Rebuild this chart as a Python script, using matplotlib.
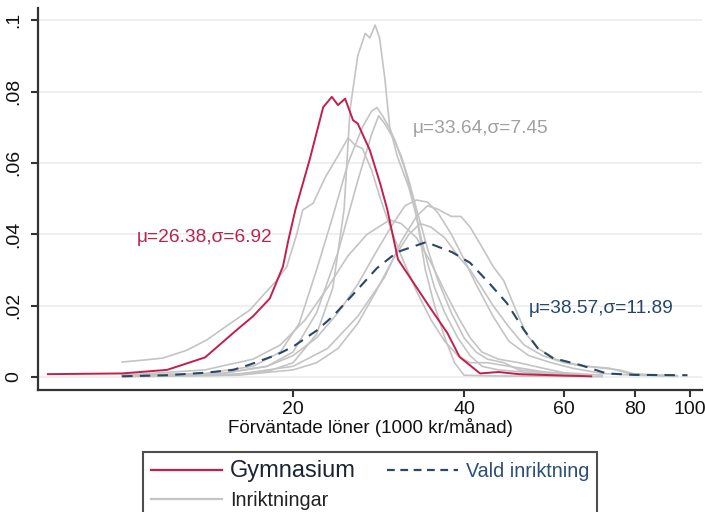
import numpy as np
import matplotlib
matplotlib.use("Agg")
import matplotlib.pyplot as plt
from matplotlib.lines import Line2D

plt.rcParams['font.family'] = ['Liberation Sans', 'DejaVu Sans']

# ---- data (salary in 1000 kr/month, density) ----
gym_x = [7.4, 10, 12, 14, 16, 17, 18.2, 19.2, 19.6, 20.2, 21.4, 22.6, 23.4, 24.0, 24.7, 25.5, 26, 27.3,
         28.5, 29.3, 30.6, 32.1, 34.8, 37.4, 39.3, 42.7, 46, 50, 60, 67]
gym_y = [0.0008, 0.001, 0.002, 0.0055, 0.0135, 0.017, 0.022, 0.031, 0.038, 0.047, 0.061, 0.0756, 0.0785,
         0.0762, 0.078, 0.072, 0.071, 0.0636, 0.054, 0.047, 0.033, 0.028, 0.0196, 0.0123, 0.0056, 0.001,
         0.0014, 0.0008, 0.0004, 0.0002]

vald_x = [10, 12, 14, 15.7, 16.8, 18.7, 20, 22, 23.5, 25.3, 28.1, 30.5, 34.3, 38.1, 41, 44.3, 47.6, 51,
          54, 57.4, 64, 71.3, 80, 99]
vald_y = [0.0002, 0.0005, 0.0012, 0.002, 0.0035, 0.0062, 0.0085, 0.013, 0.017, 0.0225, 0.0305, 0.035,
          0.0378, 0.035, 0.032, 0.0263, 0.0207, 0.0132, 0.008, 0.0053, 0.0034, 0.001, 0.0006, 0.0005]

inr_x = [
    [10, 15, 18, 20, 22, 23.5, 24.6, 25.2, 26, 26.8, 27.3, 27.9, 28.4, 29.0, 29.6, 30.5, 32, 33, 34.2,
     35.5, 37, 38.5, 40, 45, 60, 70],
    [10, 14, 17, 19, 20.5, 22, 23.5, 25, 26.5, 27.5, 28.1, 28.8, 29.5, 30.3, 31.5, 32.5, 33.5, 34.5,
     35.5, 37, 39, 41, 43, 46, 50, 55, 65],
    [10, 15, 18, 20, 22, 24, 26, 27.5, 28.3, 29, 30, 31, 32, 33, 34.5, 36, 38, 40, 42, 44, 47, 50, 60],
    [10, 11, 11.8, 13, 14.1, 15.5, 16.8, 17.5, 18.7, 19.5, 20.3, 20.8, 21.7, 22.8, 24, 25, 25.7, 26.5,
     27.5, 28.5, 29.5, 31, 33, 35, 37, 39, 41, 44, 48, 55, 65],
    [10, 15, 18, 20, 22, 24, 26, 28, 30, 31.5, 33, 34.5, 36, 38, 40, 42, 45, 48, 52, 57, 62, 70, 80, 95],
    [10, 16, 20, 23, 26, 29, 31, 33, 34.5, 36, 38, 39.5, 41, 43, 45, 47, 49, 51.5, 54, 58, 63, 70, 75,
     80, 95],
    [10, 14, 17, 19, 21, 23, 25, 27, 29.6, 31, 33, 35, 37, 39, 41, 43, 46, 50, 55, 60, 70],
    [10, 16, 20, 22, 24, 26, 28, 30, 32, 33.5, 35, 37, 39, 41, 43, 45, 48, 51, 55, 60, 65, 72, 78, 90],
]
inr_y = [
    [0.0002, 0.0005, 0.0015, 0.004, 0.012, 0.025, 0.047, 0.075, 0.09, 0.0963, 0.095, 0.0986, 0.095,
     0.084, 0.07, 0.062, 0.053, 0.045, 0.03, 0.02, 0.011, 0.004, 0.0005, 0.0003, 0.0002, 0.0001],
    [0.0005, 0.001, 0.003, 0.007, 0.015, 0.03, 0.045, 0.06, 0.07, 0.0745, 0.0755, 0.073, 0.07, 0.066,
     0.058, 0.05, 0.04, 0.032, 0.025, 0.018, 0.011, 0.006, 0.003, 0.002, 0.0015, 0.0008, 0.0003],
    [0.0003, 0.001, 0.003, 0.007, 0.018, 0.035, 0.055, 0.068, 0.0732, 0.071, 0.067, 0.062, 0.055,
     0.047, 0.036, 0.027, 0.018, 0.011, 0.007, 0.005, 0.004, 0.002, 0.0005],
    [0.0042, 0.0048, 0.0053, 0.0075, 0.0104, 0.015, 0.0188, 0.022, 0.027, 0.031, 0.04, 0.0468, 0.0487,
     0.056, 0.062, 0.067, 0.065, 0.064, 0.058, 0.05, 0.043, 0.034, 0.024, 0.016, 0.01, 0.006, 0.004,
     0.004, 0.003, 0.0015, 0.0005],
    [0.0002, 0.001, 0.003, 0.006, 0.011, 0.018, 0.026, 0.035, 0.043, 0.048, 0.0496, 0.049, 0.046, 0.04,
     0.033, 0.026, 0.017, 0.01, 0.006, 0.004, 0.0025, 0.001, 0.0005, 0.0003],
    [0.0002, 0.0008, 0.003, 0.008, 0.017, 0.028, 0.038, 0.045, 0.048, 0.047, 0.045, 0.045, 0.042,
     0.0365, 0.031, 0.027, 0.02, 0.012, 0.008, 0.005, 0.0035, 0.0025, 0.002, 0.0008, 0.0004],
    [0.0005, 0.002, 0.005, 0.009, 0.016, 0.025, 0.034, 0.04, 0.044, 0.043, 0.039, 0.032, 0.024, 0.017,
     0.011, 0.007, 0.005, 0.004, 0.0025, 0.0012, 0.0005],
    [0.0001, 0.0005, 0.002, 0.004, 0.008, 0.015, 0.024, 0.033, 0.04, 0.043, 0.042, 0.039, 0.034, 0.03,
     0.025, 0.02, 0.014, 0.009, 0.006, 0.004, 0.003, 0.0025, 0.001, 0.0003],
]

xticks = [20, 40, 60, 80, 100]
yticks = [0, 0.02, 0.04, 0.06, 0.08, 0.1]
ytick_labels = ['0', '.02', '.04', '.06', '.08', '.1']

lbl_gym = "μ=26.38,σ=6.92"
lbl_inr = "μ=33.64,σ=7.45"
lbl_vald = "μ=38.57,σ=11.89"

RED = '#c21f4b'
NAVY = '#2a4766'
GREY = '#c4c4c4'

fig = plt.figure(figsize=(7.05, 5.12), dpi=100)
ax = fig.add_axes([38/705, 1-390/512, (702-38)/705, (390-8)/512])

ax.set_xscale('log')
ax.set_xlim(7.11, 105)
ax.set_ylim(-0.00364, 0.1034)

for yv in yticks:
    ax.axhline(yv, color='#ececec', lw=1.2, zorder=0)

for xs, ys in zip(inr_x, inr_y):
    ax.plot(xs, ys, color=GREY, lw=1.2, zorder=2)
ax.plot(vald_x, vald_y, color=NAVY, lw=1.5, ls=(0, (5, 3.5)), zorder=3)
ax.plot(gym_x, gym_y, color=RED, lw=1.4, zorder=4)

ax.text(14.0, 0.039, lbl_gym, color='#b8244c', fontsize=13.8, ha='center', va='center')
ax.text(42.7, 0.0697, lbl_inr, color='#a0a0a0', fontsize=13.8, ha='center', va='center')
ax.text(69.7, 0.0193, lbl_vald, color='#24466a', fontsize=13.8, ha='center', va='center')

ax.set_xticks(xticks)
ax.set_xticklabels([str(t) for t in xticks])
ax.xaxis.set_minor_locator(matplotlib.ticker.NullLocator())
ax.set_yticks(yticks)
ax.set_yticklabels(ytick_labels, rotation=90, va='center')
ax.tick_params(axis='both', labelsize=14, length=5, width=1.5, color='#333333', labelcolor='#111111')
ax.tick_params(axis='y', pad=6)
ax.tick_params(axis='x', pad=3)

for s in ['top', 'right']:
    ax.spines[s].set_visible(False)
for s in ['left', 'bottom']:
    ax.spines[s].set_linewidth(1.6)
    ax.spines[s].set_color('#333333')

ax.set_xlabel("Förväntade löner (1000 kr/månad)", fontsize=13.5, color='#111111', labelpad=0)

handles = [Line2D([], [], color=RED, lw=1.6),
           Line2D([], [], color=GREY, lw=1.6),
           Line2D([], [], color=NAVY, lw=1.6, ls=(0, (3.5, 2.5)))]
labels = ['Gymnasium', 'Inriktningar', 'Vald inriktning']
leg = fig.legend(handles, labels, loc='upper left', bbox_to_anchor=(143/705, 1-452/512),
                 bbox_transform=fig.transFigure, ncol=2, fontsize=14.2, frameon=True,
                 fancybox=False, edgecolor='#222222', borderpad=0.4, handlelength=3.6,
                 handletextpad=0.4, columnspacing=1.6, labelspacing=0.45, borderaxespad=0)
leg.get_frame().set_linewidth(1.5)
txts = leg.get_texts()
txts[0].set_fontsize(17)
txts[0].set_color('#1c2433')
txts[1].set_color('#222222')
txts[2].set_color('#2a4f78')

fig.savefig('out.png', dpi=100)
